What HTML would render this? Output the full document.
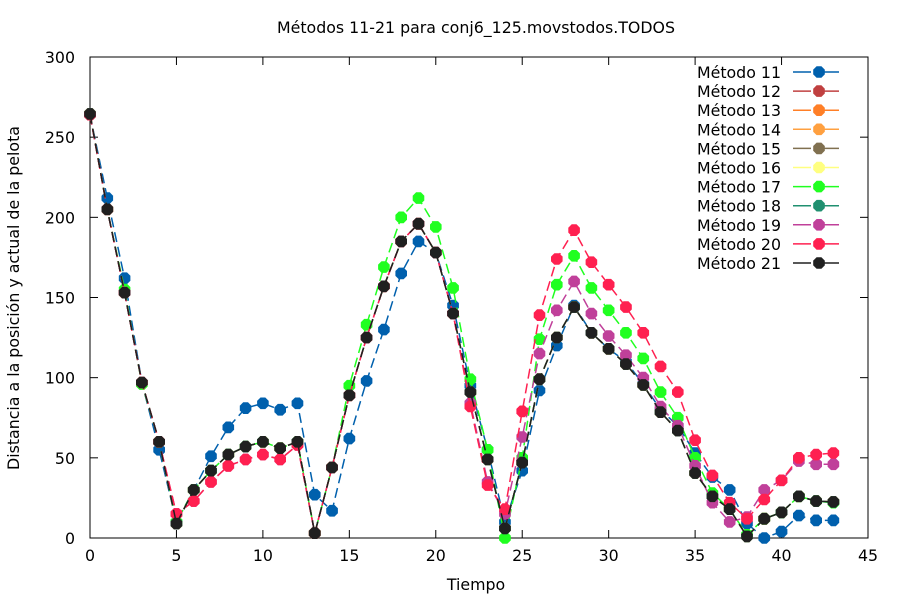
<!DOCTYPE html>
<html><head><meta charset="utf-8"><style>
body{margin:0;background:#fff}
svg{font-family:"DejaVu Sans","Liberation Sans",sans-serif;font-size:15.8px}
</style></head><body>
<svg id="c" width="900" height="600"></svg>
<script>
const times=[];for(let i=0;i<=43;i++)times.push(i);
const xTicks=[0,5,10,15,20,25,30,35,40,45];
const yTicks=[0,50,100,150,200,250,300];
const names=["Método 11","Método 12","Método 13","Método 14","Método 15","Método 16","Método 17","Método 18","Método 19","Método 20","Método 21"];
const colors=["#0060ad","#c04040","#ff7f27","#ffa040","#807050","#ffff80","#20ff20","#209070","#c0409a","#ff2050","#202020"];
const m21=[264.5,205,153,97,60,9,30,42,52,57,60,56,60,3,44,89,125,157,185,196,178,140,91,49,6,47,99,125,144,128,118,108.5,95.5,78.5,67,40.5,26,18,1,12,16,26,23,22.5];
const m11=[264,212,162,97,55,10,30,51,69,81,84,80,84,27,17,62,98,130,165,185,178,145,95,55,10,42,92,120,145,128,118,110,96,80,70,53,38,30,9,0,4,14,11,11];
const m17=[264,205,155,96,60,10,30,42,52,57,60,56,60,3,44,95,133,169,200,212,194,156,99,55,0,50,124,158,176,156,142,128,112,91,75,50,28,18,2,12,16,26,23,22];
const m19=[264,205,153,97,60,15,23,35,45,49,52,49,58,3,44,89,125,157,185,196,178,140,84,35,15,63,115,142,160,140,126,114,100,82,70,45,22,10,13,30,36,48,46,46];
const m20=[264,205,153,97,60,15,23,35,45,49,52,49,58,3,44,89,125,157,185,196,178,140,82,33,18,79,139,174,192,172,158,144,128,107,91,61,39,22,12,24,36,50,52,53];
const m12=m21.slice(),m13=m21.slice(),m14=m21.slice(),m15=m21.slice(),m16=m21.slice(),m18=m21.slice();
const series=[m11,m12,m13,m14,m15,m16,m17,m18,m19,m20,m21];

const NS="http://www.w3.org/2000/svg",svg=document.getElementById('c');
const L=90,R=868,T=57,B=538;
const xs=v=>L+(v-0)/45*(R-L), ys=v=>B-v/300*(B-T);
function el(t,a,p){const e=document.createElementNS(NS,t);for(const k in a)e.setAttribute(k,a[k]);(p||svg).appendChild(e);return e;}
function txt(s,a){const e=el('text',a);e.textContent=s;return e;}
const fr=el('rect',{x:L,y:T,width:R-L,height:B-T,fill:'none',stroke:'#000','stroke-width':1});


xTicks.forEach(v=>{const x=xs(v);
 el('line',{x1:x,x2:x,y1:B,y2:B-8,stroke:'#000'});el('line',{x1:x,x2:x,y1:T,y2:T+8,stroke:'#000'});
 const t=txt(v,{x:x,y:B+23,'text-anchor':'middle'});
 
 });
yTicks.forEach(v=>{const y=ys(v);
 el('line',{x1:L,x2:L+8,y1:y,y2:y,stroke:'#000'});el('line',{x1:R,x2:R-8,y1:y,y2:y,stroke:'#000'});
 const t=txt(v,{x:L-15,y:y+6,'text-anchor':'end'});
 
 });
let e=txt('Métodos 11-21 para conj6_125.movstodos.TODOS',{x:476,y:33,'text-anchor':'middle'});


e=txt('Tiempo',{x:476,y:590,'text-anchor':'middle'});


e=txt('Distancia a la posición y actual de la pelota',{x:0,y:0,'text-anchor':'middle',transform:'translate(19,298) rotate(-90)'});


function hex(cx,cy,r,c,p){const pts=[];for(let i=0;i<8;i++){const a=Math.PI/8+i*Math.PI/4;pts.push((cx+r*Math.cos(a)).toFixed(1)+','+(cy+r*Math.sin(a)).toFixed(1));}
 return el('polygon',{points:pts.join(' '),fill:c},p);}
series.forEach((s,k)=>{
 const g=el('g',{});
 
 
 el('polyline',{points:s.map((v,i)=>xs(times[i])+','+ys(v)).join(' '),fill:'none',stroke:colors[k],'stroke-width':1.5,'stroke-dasharray':'10,5'},g);
 s.forEach((v,i)=>{const p=hex(xs(times[i]),ys(v),6.3,colors[k],g);
  
  });
 const y=72+k*19.1;
 const lg=el('g',{});
 
 
 const lt=txt(names[k],{x:781,y:y+6,'text-anchor':'end'});lg.appendChild(lt);
 el('line',{x1:793,x2:845,y1:y,y2:y,stroke:colors[k],'stroke-width':1.5,'stroke-dasharray':'18,10'},lg);
 hex(819,y,6.3,colors[k],lg);
});
</script>
</body></html>
